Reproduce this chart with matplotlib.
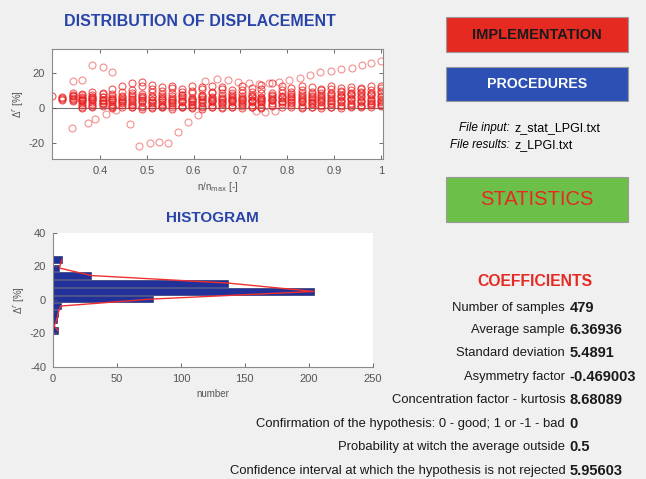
"""
Окно статистики: распределение смещений, гистограмма и коэффициенты
"""

import numpy as np
import matplotlib
matplotlib.use("Agg")
import matplotlib.pyplot as plt
from matplotlib.patches import Rectangle

nan = np.nan

# Положения по оси n/n_max (столбцы точек)
x_pos = [0.298, 0.319, 0.341, 0.362, 0.383, 0.405, 0.426, 0.447, 0.468, 0.490,
         0.511, 0.532, 0.554, 0.575, 0.596, 0.618, 0.639, 0.660, 0.681, 0.703,
         0.724, 0.745, 0.767, 0.788, 0.809, 0.831, 0.852, 0.873, 0.894, 0.916,
         0.937, 0.958, 0.979, 1.000]

# Основная полоса точек (отдельные ряды)
track_1 = [nan, nan, 9.0, 7.5, 9.5, 8.0, 11.0, 12.5, 14.5, 15.0, 13.5, 12.0, 13.0, 11.0, 12.5, 11.0, 13.0,
           12.0, 10.5, 12.5, 11.5, 13.5, 14.5, 12.5, 11.5, 13.0, 12.0, 11.0, 12.5, 11.5, 12.0, 11.0, 12.5, 12.5]
track_2 = [nan, nan, 7.0, 8.0, 6.5, 8.5, 7.0, 9.5, 10.5, 12.5, 11.0, 10.0, 11.5, 9.5, 10.0, 12.0, 9.5,
           11.0, 9.0, 10.5, 9.5, 11.0, 9.0, 10.5, 9.5, 10.5, 9.5, 10.5, 11.0, 10.0, 10.5, 11.5, 10.5, 11.5]
track_3 = [nan, 6.5, 7.5, 6.0, 7.5, 6.5, 8.0, 7.0, 9.0, 8.0, 9.5, 8.0, 9.0, 7.5, 8.5, 7.5, 8.5,
           9.0, 7.5, 8.5, 7.5, 8.5, 7.0, 8.5, 8.0, 9.0, 8.0, 9.0, 8.5, 9.5, 9.0, 9.5, 9.0, 10.0]
track_4 = [6.8, 5.5, 6.0, 6.5, 5.5, 6.5, 5.5, 6.5, 7.5, 6.5, 7.0, 7.0, 6.0, 7.5, 6.0, 7.0, 6.5,
           7.0, 6.0, 7.0, 6.5, 6.0, 7.5, 6.5, 7.0, 7.5, 6.5, 7.5, 8.0, 7.5, 8.0, 8.5, 8.0, 8.5]
track_5 = [nan, 5.0, 4.5, 5.0, 5.5, 4.5, 5.0, 4.5, 5.5, 6.0, 5.0, 5.5, 5.0, 5.5, 4.5, 5.5, 5.0,
           6.0, 5.0, 5.5, 5.0, 5.5, 5.0, 6.0, 5.5, 6.0, 5.5, 6.0, 6.0, 6.5, 6.0, 6.5, 6.0, 6.5]
track_6 = [nan, nan, 4.0, 4.5, 3.5, 4.0, 4.5, 3.5, 4.5, 4.0, 4.5, 3.5, 4.5, 4.0, 3.5, 4.5, 4.0,
           4.5, 4.0, 5.0, 4.0, 4.5, 5.0, 4.0, 4.5, 5.0, 4.5, 5.0, 4.5, 5.0, 5.5, 5.0, 5.0, 5.0]
track_7 = [nan, nan, nan, 3.0, 2.5, 3.0, 2.5, 3.0, 2.0, 3.5, 3.0, 2.5, 3.0, 3.5, 2.5, 3.0, 3.5,
           3.0, 3.5, 3.0, 3.5, 4.0, 3.0, 3.5, 3.0, 3.5, 3.0, 3.5, 3.0, 3.5, 3.0, 3.5, 3.0, 3.5]
track_8 = [nan, nan, nan, 2.0, 1.5, 2.5, 1.5, 2.0, 2.5, 1.5, 2.0, 1.5, 2.0, 1.5, 2.0, 1.5, 2.0,
           2.5, 2.0, 2.5, 2.0, 2.5, 2.0, 2.5, 2.0, 2.0, 2.5, 2.0, 2.5, 2.0, 2.5, 2.0, 2.5, 2.5]
track_9 = [nan, nan, nan, 0.5, 1.0, 1.5, 0.5, 1.0, 0.5, 1.0, 0.5, 1.0, 0.5, 1.0, 0.5, 1.0, 0.5,
           1.0, 0.5, 1.5, 1.0, 1.0, 1.5, 1.0, 1.0, 0.5, 1.0, 1.5, 1.0, 1.5, 1.5, 1.5, 2.0, 2.0]
track_10 = [nan, nan, nan, 0.0, nan, nan, 0.0, nan, 0.5, -0.5, 0.0, 0.5, -0.5, 0.5, 0.0, -0.5, 0.5,
            0.0, 0.5, 0.0, 0.5, 0.0, nan, nan, nan, 0.0, 1.0, 0.0, 0.5, 0.0, 1.0, 0.5, 1.0, 1.5]
track_11 = [nan, 6.0, 7.0, 5.5, 6.5, 5.0, 6.0, 5.5, 6.5, 7.0, 6.5, 6.0, 7.0, 6.5, 5.5, 6.5, 6.0,
            5.5, 6.5, 6.0, 7.0, 6.5, 6.0, 7.0, 6.5, 6.5, 7.0, 6.5, 7.0, 7.0, 7.5, 7.0, 7.5, 7.0]
track_12 = [nan, nan, 5.5, 4.0, 4.5, 3.0, 3.5, 4.0, 3.5, 4.5, 3.5, 4.5, 3.5, 4.0, 4.0, 3.5, 4.5,
            3.5, 4.5, 4.0, 4.5, 3.5, 4.5, 4.0, 3.5, 4.0, 3.5, 4.0, 4.0, 4.0, 4.5, 4.0, 4.0, 4.0]
tracks = [track_1, track_2, track_3, track_4, track_5, track_6,
          track_7, track_8, track_9, track_10, track_11, track_12]

# Отдельные "ветви" точек
arm_up_left_x = [0.341, 0.362, 0.383, 0.405, 0.426]
arm_up_left_y = [15.6, 16.0, 24.8, 23.8, 20.6]
arm_up_right_x = [0.625, 0.650, 0.673, 0.694, 0.718, 0.740, 0.761, 0.782, 0.804, 0.827,
                  0.849, 0.871, 0.893, 0.916, 0.938, 0.959, 0.980, 1.000]
arm_up_right_y = [15.6, 16.6, 16.2, 15.2, 14.3, 14.0, 14.5, 15.2, 16.2, 17.1,
                  19.0, 21.0, 21.5, 22.5, 23.2, 24.6, 26.0, 26.9]
arm_down_x = [0.339, 0.373, 0.389, 0.413, 0.433, 0.463, 0.484, 0.506, 0.526, 0.546,
              0.567, 0.588, 0.609, 0.733, 0.752, 0.774]
arm_down_y = [-11.4, -8.2, -6.3, -3.2, -1.0, -9.0, -21.3, -20.0, -19.0, -19.6,
              -13.3, -8.0, -3.8, -1.3, -2.3, -1.5]

# Гистограмма
bin_centers = [24.0, 19.0, 14.5, 10.0, 5.0, 0.5, -3.7, -8.0, -11.7, -15.5, -18.5]
bin_counts = [7, 5, 30, 137, 204, 78, 6, 4, 3, 1, 4]

# Коэффициенты
coef_names = ["Number of samples", "Average sample", "Standard deviation",
              "Asymmetry factor", "Concentration factor - kurtosis",
              "Confirmation of the hypothesis: 0 - good; 1 or -1 - bad",
              "Probability at witch the average outside",
              "Confidence interval at which the hypothesis is not rejected"]
coef_values = ["479", "6.36936", "5.4891", "-0.469003", "8.68089", "0", "0.5", "5.95603"]

plt.rcParams["font.family"] = ["Liberation Sans", "DejaVu Sans"]
plt.rcParams["axes.unicode_minus"] = False

BG = "#f0f0f0"
TITLE_BLUE = "#2844a8"
TICK_COLOR = "#555555"
SPINE_COLOR = "#8a8a8a"
RED = "#e52a22"

fig = plt.figure(figsize=(6.46, 4.79), dpi=100, facecolor=BG)

# --- Распределение смещений ---
ax1 = fig.add_axes([0.0805, 0.668, 0.5125, 0.230])
for tr in tracks:
    ax1.plot(x_pos, tr, "o", mfc="none", mec="#e82020", ms=5, mew=0.8, alpha=0.75)
for xs, ys in [(arm_up_left_x, arm_up_left_y), (arm_up_right_x, arm_up_right_y),
               (arm_down_x, arm_down_y)]:
    ax1.plot(xs, ys, "o", mfc="none", mec="#e82020", ms=5, mew=0.8, alpha=0.5)
ax1.axhline(0, color="#777777", lw=0.8, zorder=0)
ax1.set_xlim(0.297, 1.005)
ax1.set_ylim(-29, 34)
ax1.set_xticks([0.4, 0.5, 0.6, 0.7, 0.8, 0.9, 1.0])
ax1.set_xticklabels(["0.4", "0.5", "0.6", "0.7", "0.8", "0.9", "1"])
ax1.set_yticks([-20, 0, 20])
ax1.set_xlabel("n/n$_{\\mathrm{max}}$ [-]", fontsize=7, color=TICK_COLOR, labelpad=3)
ax1.set_ylabel("Δ$^{r}$ [%]", fontsize=7, color=TICK_COLOR, labelpad=2)
fig.text(0.31, 0.955, "DISTRIBUTION OF DISPLACEMENT", ha="center", va="center",
         fontsize=11.5, fontweight="bold", color=TITLE_BLUE)

# --- Гистограмма ---
ax2 = fig.add_axes([0.082, 0.234, 0.495, 0.280])
ax2.barh(bin_centers, bin_counts, height=4.1, color="#22309a", edgecolor="#141c5a", lw=0.4)
ax2.plot(bin_counts, bin_centers, color="#f03030", lw=1.0)
ax2.set_xlim(0, 250)
ax2.set_ylim(-40, 40)
ax2.set_xticks([0, 50, 100, 150, 200, 250])
ax2.set_yticks([-40, -20, 0, 20, 40])
ax2.set_xlabel("number", fontsize=7, color=TICK_COLOR, labelpad=4)
ax2.set_ylabel("Δ$^{r}$ [%]", fontsize=7, color=TICK_COLOR, labelpad=2)
ax2.set_title("HISTOGRAM", fontsize=11, fontweight="bold", color=TITLE_BLUE, pad=8)
ax2.spines["top"].set_visible(False)
ax2.spines["right"].set_visible(False)

for ax in (ax1, ax2):
    ax.set_facecolor("white")
    ax.tick_params(direction="in", labelsize=8, colors=TICK_COLOR, length=3, width=0.6, pad=5)
    for sp in ax.spines.values():
        sp.set_color(SPINE_COLOR)
        sp.set_linewidth(0.8)
ax1.tick_params(top=True, right=True)

# --- Кнопки справа ---
buttons = [
    (0.891, 0.073, RED, "IMPLEMENTATION", "#1a1a1a", 10.5, "bold"),
    (0.789, 0.071, "#2c50b4", "PROCEDURES", "white", 10.2, "bold"),
    (0.537, 0.094, "#6cc04a", "STATISTICS", RED, 14.5, "normal"),
]
for y0, h, fc, label, tc, fs, fw in buttons:
    fig.add_artist(Rectangle((0.690, y0), 0.282, h, transform=fig.transFigure,
                             facecolor=fc, edgecolor="#9a9a9a", lw=0.8))
    fig.text(0.831, y0 + h / 2, label, ha="center", va="center", color=tc,
             fontsize=fs, fontweight=fw)

fig.text(0.789, 0.733, "File input:", ha="right", va="center", fontsize=8.5, style="italic")
fig.text(0.797, 0.733, "z_stat_LPGI.txt", ha="left", va="center", fontsize=9)
fig.text(0.789, 0.697, "File results:", ha="right", va="center", fontsize=8.5, style="italic")
fig.text(0.797, 0.697, "z_LPGI.txt", ha="left", va="center", fontsize=9)

# --- Коэффициенты ---
fig.text(0.828, 0.413, "COEFFICIENTS", ha="center", va="center", color=RED,
         fontsize=11.3, fontweight="bold")
row_y = [0.357, 0.311, 0.263, 0.213, 0.165, 0.115, 0.067, 0.017]
for y, name, val in zip(row_y, coef_names, coef_values):
    fig.text(0.875, y, name, ha="right", va="center", fontsize=9.4, color="#1a1a1a")
    fig.text(0.882, y, val, ha="left", va="center", fontsize=10.5, fontweight="bold",
             color="#1a1a1a")

fig.savefig("out.png", dpi=100, facecolor=BG)
